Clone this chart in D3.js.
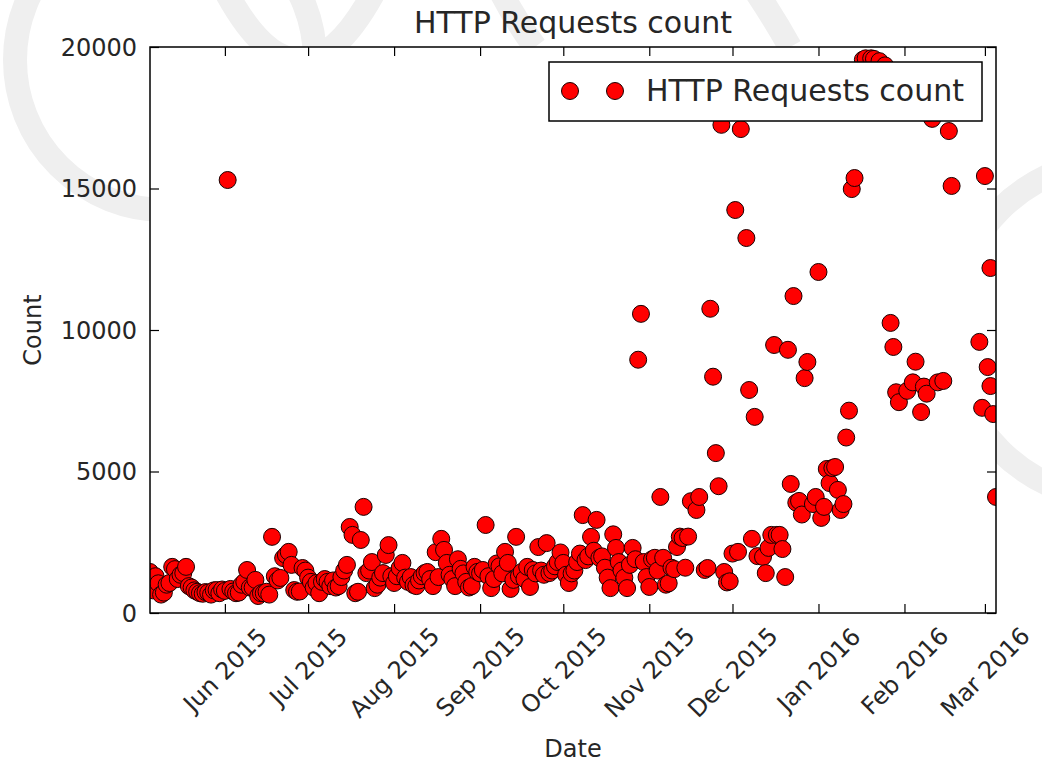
<!DOCTYPE html>
<html>
<head>
<meta charset="utf-8">
<script src="https://cdn.jsdelivr.net/npm/d3@7"></script>
<style>
body { margin: 0; background: #fff; }
svg { display: block; font-family: "DejaVu Sans", sans-serif; }
</style>
</head>
<body>
<svg id="chart" width="1042" height="762"></svg>
<script>
// Daily request counts (dates, values off the y axis)
var dates = [
  "2015-05-05","2015-05-06","2015-05-07","2015-05-08","2015-05-09","2015-05-10","2015-05-11","2015-05-12","2015-05-13","2015-05-14","2015-05-15","2015-05-16","2015-05-17","2015-05-18","2015-05-19","2015-05-20","2015-05-21","2015-05-22","2015-05-23","2015-05-24","2015-05-25","2015-05-26","2015-05-27","2015-05-28","2015-05-29","2015-05-30","2015-05-31",
  "2015-06-01","2015-06-02","2015-06-03","2015-06-04","2015-06-05","2015-06-06","2015-06-07","2015-06-08","2015-06-09","2015-06-10","2015-06-11","2015-06-12","2015-06-13","2015-06-14","2015-06-15","2015-06-16","2015-06-17","2015-06-18","2015-06-19","2015-06-20","2015-06-21","2015-06-22","2015-06-23","2015-06-24","2015-06-25","2015-06-26","2015-06-27","2015-06-28","2015-06-29","2015-06-30",
  "2015-07-01","2015-07-02","2015-07-03","2015-07-04","2015-07-05","2015-07-06","2015-07-07","2015-07-08","2015-07-09","2015-07-10","2015-07-11","2015-07-12","2015-07-13","2015-07-14","2015-07-15","2015-07-16","2015-07-17","2015-07-18","2015-07-19","2015-07-20","2015-07-21","2015-07-22","2015-07-23","2015-07-24","2015-07-25","2015-07-26","2015-07-27","2015-07-28","2015-07-29","2015-07-30","2015-07-31",
  "2015-08-01","2015-08-02","2015-08-03","2015-08-04","2015-08-05","2015-08-06","2015-08-07","2015-08-08","2015-08-09","2015-08-10","2015-08-11","2015-08-12","2015-08-13","2015-08-14","2015-08-15","2015-08-16","2015-08-17","2015-08-18","2015-08-19","2015-08-20","2015-08-21","2015-08-22","2015-08-23","2015-08-24","2015-08-25","2015-08-26","2015-08-27","2015-08-28","2015-08-29","2015-08-30","2015-08-31",
  "2015-09-01","2015-09-02","2015-09-03","2015-09-04","2015-09-05","2015-09-06","2015-09-07","2015-09-08","2015-09-09","2015-09-10","2015-09-11","2015-09-12","2015-09-13","2015-09-14","2015-09-15","2015-09-16","2015-09-17","2015-09-18","2015-09-19","2015-09-20","2015-09-21","2015-09-22","2015-09-23","2015-09-24","2015-09-25","2015-09-26","2015-09-27","2015-09-28","2015-09-29","2015-09-30",
  "2015-10-01","2015-10-02","2015-10-03","2015-10-04","2015-10-05","2015-10-06","2015-10-07","2015-10-08","2015-10-09","2015-10-10","2015-10-11","2015-10-12","2015-10-13","2015-10-14","2015-10-15","2015-10-16","2015-10-17","2015-10-18","2015-10-19","2015-10-20","2015-10-21","2015-10-22","2015-10-23","2015-10-24","2015-10-25","2015-10-26","2015-10-27","2015-10-28","2015-10-29","2015-10-30","2015-10-31",
  "2015-11-01","2015-11-02","2015-11-03","2015-11-04","2015-11-05","2015-11-06","2015-11-07","2015-11-08","2015-11-09","2015-11-10","2015-11-11","2015-11-12","2015-11-13","2015-11-14","2015-11-15","2015-11-16","2015-11-18","2015-11-19","2015-11-21","2015-11-22","2015-11-23","2015-11-24","2015-11-25","2015-11-26","2015-11-27","2015-11-28","2015-11-29","2015-11-30",
  "2015-12-01","2015-12-02","2015-12-03","2015-12-04","2015-12-06","2015-12-07","2015-12-08","2015-12-09","2015-12-10","2015-12-12","2015-12-13","2015-12-14","2015-12-15","2015-12-16","2015-12-17","2015-12-18","2015-12-19","2015-12-20","2015-12-21","2015-12-22","2015-12-23","2015-12-24","2015-12-25","2015-12-26","2015-12-27","2015-12-28","2015-12-30","2015-12-31",
  "2016-01-01","2016-01-02","2016-01-03","2016-01-04","2016-01-05","2016-01-06","2016-01-07","2016-01-08","2016-01-09","2016-01-10","2016-01-11","2016-01-12","2016-01-13","2016-01-14","2016-01-17","2016-01-18","2016-01-20","2016-01-21","2016-01-23","2016-01-25","2016-01-27","2016-01-28","2016-01-29","2016-01-30",
  "2016-02-02","2016-02-04","2016-02-05","2016-02-07","2016-02-08","2016-02-09","2016-02-11","2016-02-13","2016-02-15","2016-02-17","2016-02-18","2016-02-28","2016-02-29",
  "2016-03-01","2016-03-02","2016-03-03","2016-03-03","2016-03-04","2016-03-05"
];
var counts = [
  1450,800,1300,1050,650,720,1000,1060,1630,1550,1200,1350,1410,1630,950,900,800,750,700,680,740,720,650,800,810,700,830,
  780,15300,850,760,700,720,1000,1100,1520,900,900,1170,600,700,700,750,650,2690,1300,1150,1240,1940,2050,2160,1700,810,750,760,1590,1500,
  1250,1100,900,1060,700,1100,1200,1100,950,1150,900,950,1270,1500,1700,3040,2760,700,750,2580,3750,1410,1500,1800,880,1000,1250,1410,2050,2400,1300,
  1060,1300,1590,1770,1250,1100,1270,990,950,1150,1300,1410,1450,1200,950,2150,1270,2620,2230,1770,1350,1200,950,1900,1560,1400,1100,900,950,1630,1450,
  1400,1520,3110,1300,880,1200,1750,1650,1400,2160,1770,850,1170,2690,1300,1450,1200,1630,920,1520,1400,2330,1500,1350,2470,1410,1500,1650,1800,2140,
  1770,1350,1060,1400,1500,1800,2100,3460,1870,2000,2690,2200,3290,1950,2000,1600,1250,880,2780,2300,1800,1500,1250,880,1700,2300,1900,8950,10570,1800,1270,
  920,1900,1950,1500,4100,1950,1000,1050,1600,1550,2330,2700,2650,1600,2700,3950,3640,4100,1520,1590,10750,8350,5650,4480,17250,1450,1080,1120,
  2100,14240,2160,17100,13250,7880,2620,6930,2010,1980,1410,2300,2760,9470,2760,2760,2260,1270,9300,4560,11200,3900,3960,3480,8300,8870,3850,4100,
  12050,3360,3750,5090,4590,5120,5160,4350,3640,3850,6200,7150,14980,15370,19550,19600,19600,19580,19500,19350,10250,9400,7800,7450,
  7850,8150,8880,7100,8000,7750,17460,8150,8200,17030,15090,9580,7250,
  15440,8690,8020,12190,7030,4100
];

var yTickValues = [0, 5000, 10000, 15000, 20000];
var chartTitle = "HTTP Requests count";
var seriesLabel = "HTTP Requests count";
var xTitle = "Date";
var yTitle = "Count";

// Layout
var width = 1042, height = 762;
var plot = {left: 150, right: 996, top: 47, bottom: 613};
var tickLen = 9;

var parseDate = d3.timeParse("%Y-%m-%d");
var points = dates.map(function(d, i) { return {date: parseDate(d), count: counts[i]}; });

var svg = d3.select("#chart");

// faint watermark shapes behind the figure
var wm = svg.append("g").attr("fill", "none").attr("stroke", "#efefef").attr("stroke-width", 24);
wm.append("circle").attr("cx", 165).attr("cy", 60).attr("r", 150);
wm.append("path").attr("d", "M 225 -10 Q 300 130 375 -10");
wm.append("path").attr("d", "M 500 -10 Q 515 20 535 47");
wm.append("path").attr("d", "M 755 -10 Q 775 20 790 47");
wm.append("circle").attr("cx", 1120).attr("cy", 330).attr("r", 170);
wm.append("circle").attr("cx", 1110).attr("cy", 330).attr("r", 40);

// white axes background
svg.append("rect")
  .attr("x", plot.left).attr("y", plot.top)
  .attr("width", plot.right - plot.left).attr("height", plot.bottom - plot.top)
  .attr("fill", "#fff");

var x = d3.scaleTime()
  .domain(d3.extent(points, function(d) { return d.date; }))
  .range([plot.left, plot.right]);

var y = d3.scaleLinear()
  .domain([0, 20000])
  .range([plot.bottom, plot.top]);

svg.append("clipPath").attr("id", "plotClip")
  .append("rect")
  .attr("x", plot.left).attr("y", plot.top)
  .attr("width", plot.right - plot.left).attr("height", plot.bottom - plot.top);

// markers
svg.append("g")
  .attr("clip-path", "url(#plotClip)")
  .selectAll("circle")
  .data(points)
  .enter().append("circle")
  .attr("cx", function(d) { return x(d.date); })
  .attr("cy", function(d) { return y(d.count); })
  .attr("r", 8.5)
  .attr("fill", "#ff0000")
  .attr("stroke", "#1a0000")
  .attr("stroke-width", 1);

// axes, ticks pointing inwards
var monthTicks = d3.timeMonth.every(1);

var xBottom = svg.append("g")
  .attr("transform", "translate(0," + plot.bottom + ")")
  .call(d3.axisBottom(x).ticks(monthTicks).tickFormat(d3.timeFormat("%b %Y"))
    .tickSizeInner(-tickLen).tickSizeOuter(0));

svg.append("g")
  .attr("transform", "translate(0," + plot.top + ")")
  .call(d3.axisTop(x).ticks(monthTicks).tickFormat("")
    .tickSizeInner(-tickLen).tickSizeOuter(0));

var yLeft = svg.append("g")
  .attr("transform", "translate(" + plot.left + ",0)")
  .call(d3.axisLeft(y).tickValues(yTickValues).tickFormat(d3.format("d"))
    .tickSizeInner(-tickLen).tickSizeOuter(0).tickPadding(13));

svg.append("g")
  .attr("transform", "translate(" + plot.right + ",0)")
  .call(d3.axisRight(y).tickValues(yTickValues).tickFormat("")
    .tickSizeInner(-tickLen).tickSizeOuter(0));

svg.selectAll(".domain").remove();
svg.selectAll(".tick line").attr("stroke", "#000").attr("stroke-width", 1.2);
svg.selectAll(".tick text").attr("fill", "#262626").style("font-size", "24px")
  .style("font-family", "DejaVu Sans");

yLeft.selectAll(".tick text").attr("dy", "0.35em");

// rotated month labels, centred under their tick
xBottom.selectAll(".tick text")
  .attr("x", 0).attr("y", 0).attr("dy", null)
  .attr("text-anchor", "middle")
  .attr("dominant-baseline", "central")
  .each(function() {
    var bb = this.getBBox();
    var h = (bb.width + bb.height) / Math.SQRT2;
    d3.select(this).attr("transform", "translate(0," + (9 + h / 2) + ") rotate(-45)");
  });

// frame
svg.append("rect")
  .attr("x", plot.left).attr("y", plot.top)
  .attr("width", plot.right - plot.left).attr("height", plot.bottom - plot.top)
  .attr("fill", "none").attr("stroke", "#000").attr("stroke-width", 1.5);

// titles
svg.append("text")
  .attr("x", (plot.left + plot.right) / 2).attr("y", 33)
  .attr("text-anchor", "middle")
  .style("font-size", "30px").attr("fill", "#262626")
  .text(chartTitle);

svg.append("text")
  .attr("x", (plot.left + plot.right) / 2).attr("y", 757)
  .attr("text-anchor", "middle")
  .style("font-size", "24px").attr("fill", "#262626")
  .text(xTitle);

svg.append("text")
  .attr("transform", "translate(41," + (plot.top + plot.bottom) / 2 + ") rotate(-90)")
  .attr("text-anchor", "middle")
  .style("font-size", "24px").attr("fill", "#262626")
  .text(yTitle);

// legend
var legend = svg.append("g").attr("transform", "translate(549,62)");
legend.append("rect")
  .attr("width", 433).attr("height", 59)
  .attr("fill", "#fff").attr("stroke", "#000").attr("stroke-width", 1.5);
legend.selectAll("circle")
  .data([21, 66])
  .enter().append("circle")
  .attr("cx", function(d) { return d; })
  .attr("cy", 29)
  .attr("r", 8.5)
  .attr("fill", "#ff0000")
  .attr("stroke", "#1a0000")
  .attr("stroke-width", 1);
legend.append("text")
  .attr("x", 97).attr("y", 39)
  .style("font-size", "30px").attr("fill", "#262626")
  .text(seriesLabel);
</script>
</body>
</html>
